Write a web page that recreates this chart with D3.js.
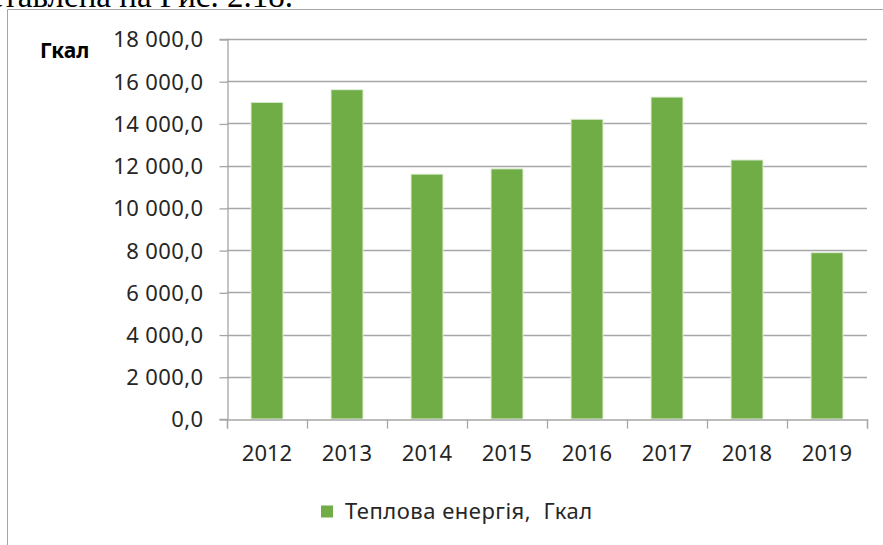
<!DOCTYPE html>
<html>
<head>
<meta charset="utf-8">
<script src="https://cdn.jsdelivr.net/npm/d3@7"></script>
<style>
  body { margin: 0; background: #fff; }
  svg text { font-family: "Noto Sans", sans-serif; fill: #262626; }
</style>
</head>
<body>
<div id="chart"></div>
<script>
// data
var years = ["2012", "2013", "2014", "2015", "2016", "2017", "2018", "2019"];
var heat = [15000, 15600, 11600, 11850, 14200, 15250, 12270, 7880];
var yTicks = [0, 2000, 4000, 6000, 8000, 10000, 12000, 14000, 16000, 18000];
var seriesName = "Теплова енергія,  Гкал";
var unitLabel = "Гкал";

var W = 883, H = 545;
var plot = {left: 227, right: 867, top: 39, bottom: 419};

var svg = d3.select("#chart").append("svg")
    .attr("width", W)
    .attr("height", H);

// clipped paragraph text above the chart frame
svg.append("text")
    .attr("x", 293)
    .attr("y", 7)
    .attr("text-anchor", "end")
    .style("font-family", "'Liberation Serif', serif")
    .style("font-size", "33px")
    .style("fill", "#000")
    .text("представлена на Рис. 2.18.");

// chart frame (left + top edges visible)
svg.append("path")
    .attr("d", "M7.5," + H + "V9.5H" + W)
    .attr("fill", "none")
    .attr("stroke", "#a6a6a6")
    .attr("stroke-width", 1);

var x = d3.scaleBand()
    .domain(years)
    .range([plot.left, plot.right])
    .paddingInner(0.6)
    .paddingOuter(0.3);

// boundaries for the category tick marks
var xb = d3.scaleLinear()
    .domain([0, years.length])
    .range([plot.left, plot.right]);

var y = d3.scaleLinear()
    .domain([0, 18000])
    .range([plot.bottom, plot.top]);

var fmt = function(v) {
  return d3.format(",.1f")(v).replace(/,/g, " ").replace(".", ",");
};

// gridlines
svg.append("g")
  .selectAll("line")
  .data(yTicks.filter(function(d) { return d > 0; }))
  .enter().append("line")
    .attr("x1", plot.left)
    .attr("x2", plot.right)
    .attr("y1", function(d) { return Math.round(y(d)) + 0.5; })
    .attr("y2", function(d) { return Math.round(y(d)) + 0.5; })
    .attr("stroke", "#a6a6a6")
    .attr("stroke-width", 1.3);

// y axis
var yAxis = svg.append("g")
    .attr("transform", "translate(" + (plot.left + 0.5) + ",0)")
    .call(d3.axisLeft(y).tickValues(yTicks).tickSize(8).tickPadding(16).tickFormat(fmt));
yAxis.select(".domain").attr("stroke", "#a6a6a6").attr("stroke-width", 1.3);
yAxis.selectAll(".tick line").attr("stroke", "#a6a6a6").attr("stroke-width", 1.3)
    .attr("transform", "translate(0,0.5)");
yAxis.selectAll(".tick text")
    .style("font-size", "22px")
    .style("letter-spacing", "0.4px")
    .style("fill", "#262626")
    .attr("dy", "0.36em");

// bars
svg.selectAll(".bar")
    .data(heat)
  .enter().append("rect")
    .attr("class", "bar")
    .attr("x", function(d, i) { return x(years[i]); })
    .attr("width", x.bandwidth())
    .attr("y", function(d) { return y(d); })
    .attr("height", function(d) { return y(0) - y(d); })
    .style("fill", "#70ad47")
    .style("stroke", "#e2efda")
    .style("stroke-width", 1);

// x axis
var xAxisG = svg.append("g")
    .attr("transform", "translate(0," + (plot.bottom + 0.5) + ")");
xAxisG.call(d3.axisBottom(xb).ticks(years.length).tickSize(9).tickFormat(""));
xAxisG.select(".domain").attr("stroke", "#a6a6a6").attr("stroke-width", 1.3);
xAxisG.selectAll(".tick line").attr("stroke", "#a6a6a6").attr("stroke-width", 1.3);

var xLabels = svg.append("g")
    .attr("transform", "translate(0," + (plot.bottom + 0.5) + ")")
    .call(d3.axisBottom(x).tickSize(0).tickPadding(26));
xLabels.select(".domain").remove();
xLabels.selectAll(".tick text")
    .style("font-size", "22px")
    .style("fill", "#262626");

// unit label
svg.append("text")
    .attr("x", 40)
    .attr("y", 57.5)
    .style("font-size", "21px")
    .style("font-weight", "bold")
    .style("fill", "#000")
    .text(unitLabel);

// legend
var legend = svg.append("g");
legend.append("rect")
    .attr("x", 321)
    .attr("y", 505.5)
    .attr("width", 12)
    .attr("height", 12)
    .style("fill", "#70ad47");
legend.append("text")
    .attr("x", 345)
    .attr("y", 518.5)
    .style("font-size", "22px")
    .style("letter-spacing", "0.5px")
    .style("white-space", "pre")
    .attr("xml:space", "preserve")
    .text(seriesName);
</script>
</body>
</html>
